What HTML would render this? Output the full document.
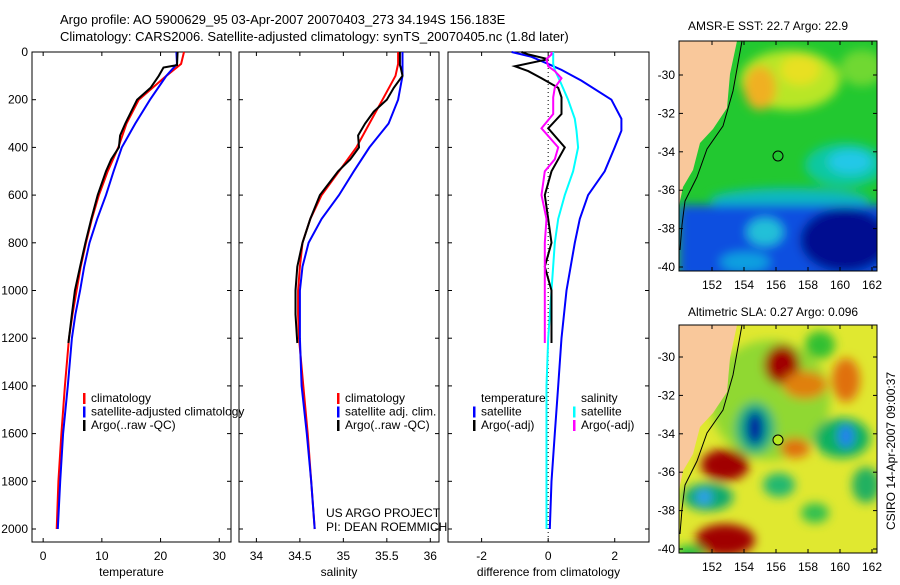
<!DOCTYPE html>
<html><head><meta charset="utf-8"><style>
body{margin:0;background:#fff;}
svg text{font-family:"Liberation Sans",sans-serif;font-size:12px;fill:#000;}
</style></head><body>
<svg id="c" width="900" height="580" xmlns="http://www.w3.org/2000/svg">
<defs>
<filter id="bl" x="-50%" y="-50%" width="200%" height="200%"><feGaussianBlur stdDeviation="5"/></filter>
<clipPath id="m1"><rect x="679" y="41" width="198" height="230"/></clipPath>
<clipPath id="m2"><rect x="679" y="325" width="198" height="228"/></clipPath>
</defs>
<text x="60" y="24" style="font-size:13px">Argo profile: AO 5900629_95 03-Apr-2007 20070403_273 34.194S 156.183E</text>
<text x="60" y="41" style="font-size:13px">Climatology: CARS2006. Satellite-adjusted climatology: synTS_20070405.nc (1.8d later)</text>
<g id="maps">
<text x="688" y="30">AMSR-E SST: 22.7 Argo: 22.9</text>
<g clip-path="url(#m1)">
<rect x="679" y="41" width="198" height="230" fill="#22c830"/>
<g filter="url(#bl)">
<ellipse cx="790" cy="80" rx="50" ry="30" fill="#b8e628"/>
<ellipse cx="760" cy="88" rx="16" ry="22" fill="#f0b020"/>
<ellipse cx="800" cy="70" rx="20" ry="15" fill="#e8e020"/>
<ellipse cx="862" cy="68" rx="22" ry="18" fill="#70d830"/>
<ellipse cx="845" cy="165" rx="40" ry="22" fill="#10c8a0"/>
<ellipse cx="850" cy="162" rx="22" ry="12" fill="#20c8e8"/>
<ellipse cx="790" cy="200" rx="80" ry="12" fill="#10b8c0"/>
<rect x="679" y="205" width="210" height="75" fill="#1050e0"/>
<ellipse cx="845" cy="240" rx="45" ry="32" fill="#000890"/>
<ellipse cx="765" cy="232" rx="18" ry="14" fill="#20c0d8"/>
<ellipse cx="745" cy="262" rx="25" ry="10" fill="#10a0e0"/>
</g>
<polygon points="679,41 737,41 730,74 727,108 713,129 700,143 693,170 683,187 680,201 679,210" fill="#f9c89b"/>
<polyline points="742,41 733,91 723,126 707,149 697,177 685,201 682,225 680,250" fill="none" stroke="#000" stroke-width="1"/>
<circle cx="778" cy="156" r="5" fill="none" stroke="#000"/>
</g>
<rect x="679" y="41" width="198" height="230" fill="none" stroke="#000"/>
<text x="688" y="316">Altimetric SLA: 0.27 Argo: 0.096</text>
<g clip-path="url(#m2)">
<rect x="679" y="325" width="198" height="228" fill="#e0e830"/>
<g filter="url(#bl)">
<ellipse cx="770" cy="400" rx="60" ry="60" fill="#90d830"/>
<ellipse cx="782" cy="365" rx="18" ry="20" fill="#a00000"/>
<ellipse cx="805" cy="385" rx="22" ry="14" fill="#e08010"/>
<ellipse cx="846" cy="380" rx="14" ry="22" fill="#e07010"/>
<ellipse cx="820" cy="345" rx="15" ry="14" fill="#30c030"/>
<ellipse cx="755" cy="428" rx="20" ry="26" fill="#10b080"/>
<ellipse cx="755" cy="428" rx="9" ry="17" fill="#0020a0"/>
<ellipse cx="842" cy="438" rx="28" ry="20" fill="#10b060"/>
<ellipse cx="846" cy="436" rx="8" ry="12" fill="#2080f0"/>
<ellipse cx="725" cy="465" rx="24" ry="16" fill="#a00000"/>
<ellipse cx="795" cy="448" rx="15" ry="10" fill="#e07010"/>
<ellipse cx="779" cy="485" rx="16" ry="12" fill="#20b870"/>
<ellipse cx="708" cy="497" rx="25" ry="14" fill="#10a870"/>
<ellipse cx="704" cy="497" rx="8" ry="8" fill="#30a0f0"/>
<ellipse cx="725" cy="540" rx="30" ry="16" fill="#a00000"/>
<ellipse cx="815" cy="513" rx="14" ry="10" fill="#30c050"/>
<ellipse cx="866" cy="485" rx="14" ry="18" fill="#20b060"/>
<ellipse cx="690" cy="553" rx="15" ry="8" fill="#20c040"/>
</g>
<polygon points="679,325 737,325 730,358 727,392 713,413 700,427 693,454 683,471 680,485 679,494" fill="#f9c89b"/>
<polyline points="742,325 733,375 723,410 707,433 697,461 685,485 682,509 680,534" fill="none" stroke="#000" stroke-width="1"/>
<circle cx="778" cy="440" r="5" fill="#b8e820" stroke="#000"/>
</g>
<rect x="679" y="325" width="198" height="228" fill="none" stroke="#000"/>
<g id="mapaxes"></g>
<text transform="translate(895,530) rotate(-90)">CSIRO 14-Apr-2007 09:00:37</text>
</g>
<g id="plots"></g>
</svg>
<script>
// depth grids
const dTemp=[0,50,100,200,300,400,500,600,700,800,900,1000,1100,1200,1400,1600,1800,2000];
const tempClim=[24.0,23.5,21.0,16.3,14.2,12.8,11.0,9.5,8.3,7.3,6.4,5.7,5.0,4.4,3.7,3.1,2.6,2.3];
const tempSat=[22.7,22.8,21.0,18.2,15.7,13.4,12.0,10.7,9.2,7.9,7.0,6.3,5.5,4.9,4.2,3.4,2.9,2.5];
const dArgo=[0,55,65,100,150,200,250,300,350,400,450,500,600,700,800,900,1000,1100,1220];
const tempArgo=[22.9,22.8,20.5,19.7,18.3,16.0,15.0,14.0,13.1,12.9,11.6,10.7,9.3,8.2,7.2,6.3,5.4,4.9,4.3];
const salArgo=[35.65,35.65,35.66,35.68,35.58,35.5,35.35,35.25,35.17,35.18,35.08,34.94,34.73,34.62,34.53,34.47,34.45,34.45,34.47];
const salClim=[35.63,35.63,35.6,35.45,35.3,35.15,34.95,34.75,34.62,34.53,34.5,34.48,34.48,34.49,34.54,34.59,34.63,34.67];
const salSat=[35.68,35.68,35.68,35.63,35.52,35.3,35.12,34.95,34.75,34.6,34.53,34.5,34.5,34.5,34.52,34.58,34.63,34.67];
const dDiff=[0,20,50,75,120,200,280,330,400,500,600,700,800,1000,1200,1400,1600,1800,2000];
const diffTSat=[-1.1,-0.5,0,0.4,1.0,1.9,2.2,2.2,2.0,1.7,1.2,0.95,0.8,0.55,0.4,0.3,0.2,0.1,0.05];
const diffSSat=[0.15,0.15,0.15,0.2,0.35,0.6,0.8,0.85,0.9,0.75,0.5,0.3,0.2,0.1,0.0,-0.05,-0.05,-0.05,-0.05];
const dDiffArgo=[0,10,30,60,80,110,150,190,260,320,400,450,500,600,700,800,900,1000,1100,1220];
const diffTArgo=[-0.8,-0.6,0,-1.0,-0.6,-0.2,0.3,0.4,0.4,0,0.5,0.3,0.1,-0.1,0,0.1,-0.1,0.1,0.1,0.1];
const diffSArgo=[0.1,0.1,-0.05,0.0,0.2,0.4,0.2,0.15,0.15,-0.2,0.3,0.2,-0.1,-0.2,-0.05,-0.1,-0.1,-0.1,-0.1,-0.1];
const depthTicks=[0,200,400,600,800,1000,1200,1400,1600,1800,2000];
const tTicks=[0,10,20,30];
const sTicks=[34,34.5,35,35.5,36];
const sTickLabels=["34","34.5","35","35.5","36"];
const dTicks=[-2,0,2];
const latTicks=[-30,-32,-34,-36,-38,-40];
const lonTicks=[152,154,156,158,160,162];

const NS="http://www.w3.org/2000/svg";
const G=document.getElementById('plots');
function el(t,a,p){const e=document.createElementNS(NS,t);for(const k in a)e.setAttribute(k,a[k]);(p||G).appendChild(e);return e;}
const Y0=52,Y1=542;
const yD=d=>52+d*0.2385;
// map axes
const MA=document.getElementById('mapaxes');
const lonX=l=>712+(l-152)*16;
[[41,271,75,289],[325,553,357,571]].forEach(([top,bot,y30,lb])=>{
  const latY=v=>y30+(-30-v)*(bot-4-y30)/10;
  latTicks.forEach(v=>{const y=latY(v);
    el('line',{x1:679,x2:683,y1:y,y2:y,stroke:'#000'},MA);el('line',{x1:873,x2:877,y1:y,y2:y,stroke:'#000'},MA);
    const t=el('text',{x:675,y:y+4,'text-anchor':'end'},MA);t.textContent=v;
    
    });
  lonTicks.forEach(v=>{const x=lonX(v);
    el('line',{x1:x,x2:x,y1:bot,y2:bot-4,stroke:'#000'},MA);el('line',{x1:x,x2:x,y1:top,y2:top+4,stroke:'#000'},MA);
    const t=el('text',{x:x,y:lb,'text-anchor':'middle'},MA);t.textContent=v;
    
    });
});
function panel(name,x0,x1,v0,v1,xticks,xlabels,label,showY){
  const g=el('g',{});
  
  
  const xs=v=>x0+(v-v0)/(v1-v0)*(x1-x0);
  el('rect',{x:x0,y:Y0,width:x1-x0,height:Y1-Y0,fill:'none',stroke:'#000'},g);
  depthTicks.forEach(d=>{const y=yD(d);
    el('line',{x1:x0,x2:x0+4,y1:y,y2:y,stroke:'#000'},g);el('line',{x1:x1-4,x2:x1,y1:y,y2:y,stroke:'#000'},g);
    if(showY){const t=el('text',{x:x0-4,y:y+4,'text-anchor':'end'},g);t.textContent=d;
      
      }});
  xticks.forEach((v,i)=>{const x=xs(v);
    el('line',{x1:x,x2:x,y1:Y1,y2:Y1-4,stroke:'#000'},g);el('line',{x1:x,x2:x,y1:Y0,y2:Y0+4,stroke:'#000'},g);
    const t=el('text',{x:x,y:560,'text-anchor':'middle'},g);t.textContent=xlabels[i];
    
    });
  const t=el('text',{x:(x0+x1)/2,y:576,'text-anchor':'middle'},g);t.textContent=label;
  
  
  return {g,xs};
}
function line(p,ds,vs,col,w,name){
  const pts=ds.map((d,i)=>p.xs(vs[i]).toFixed(1)+','+yD(d).toFixed(1)).join(' ');
  const e=el('polyline',{points:pts,fill:'none',stroke:col,'stroke-width':w},p.g);
  
  
}
function legend(p,x,y,items){
  items.forEach((it,i)=>{
    if(it[1])el('rect',{x:x,y:y+i*13.5-9,width:2.5,height:11,fill:it[1]},p.g);
    const t=el('text',{x:x+8,y:y+i*13.5},p.g);t.textContent=it[0];
    
    
  });
}
const p1=panel('temperature-panel',32,231,-1.9,32,tTicks,tTicks.map(String),'temperature',true);
line(p1,dTemp,tempClim,'#f00',2,'temp-climatology-line');
line(p1,dTemp,tempSat,'#00f',2,'temp-satellite-line');
line(p1,dArgo,tempArgo,'#000',2,'temp-argo-line');
legend(p1,83,402,[['climatology','#f00'],['satellite-adjusted climatology','#00f'],['Argo(..raw -QC)','#000']]);
const p2=panel('salinity-panel',239,439,33.8,36.1,sTicks,sTickLabels,'salinity',false);
line(p2,dTemp,salClim,'#f00',2,'sal-climatology-line');
line(p2,dTemp,salSat,'#00f',2,'sal-satellite-line');
line(p2,dArgo,salArgo,'#000',2,'sal-argo-line');
legend(p2,337,402,[['climatology','#f00'],['satellite adj. clim.','#00f'],['Argo(..raw -QC)','#000']]);
let t=el('text',{x:326,y:517},p2.g);t.textContent='US ARGO PROJECT';
t=el('text',{x:326,y:531},p2.g);t.textContent='PI: DEAN ROEMMICH';
const p3=panel('difference-panel',448,649,-3.01,3.03,dTicks,dTicks.map(String),'difference from climatology',false);
el('line',{x1:p3.xs(0),x2:p3.xs(0),y1:Y0,y2:Y1,stroke:'#000','stroke-dasharray':'1,3'},p3.g);
line(p3,dDiff,diffTSat,'#00f',2,'temp-sat-diff-line');
line(p3,dDiff,diffSSat,'#0ff',2,'sal-sat-diff-line');
line(p3,dDiffArgo,diffTArgo,'#000',2,'temp-argo-diff-line');
line(p3,dDiffArgo,diffSArgo,'#f0f',2,'sal-argo-diff-line');
legend(p3,473,402,[['temperature',null],['satellite','#00f'],['Argo(-adj)','#000']]);
legend(p3,573,402,[['salinity',null],['satellite','#0ff'],['Argo(-adj)','#f0f']]);
</script>
</body></html>
